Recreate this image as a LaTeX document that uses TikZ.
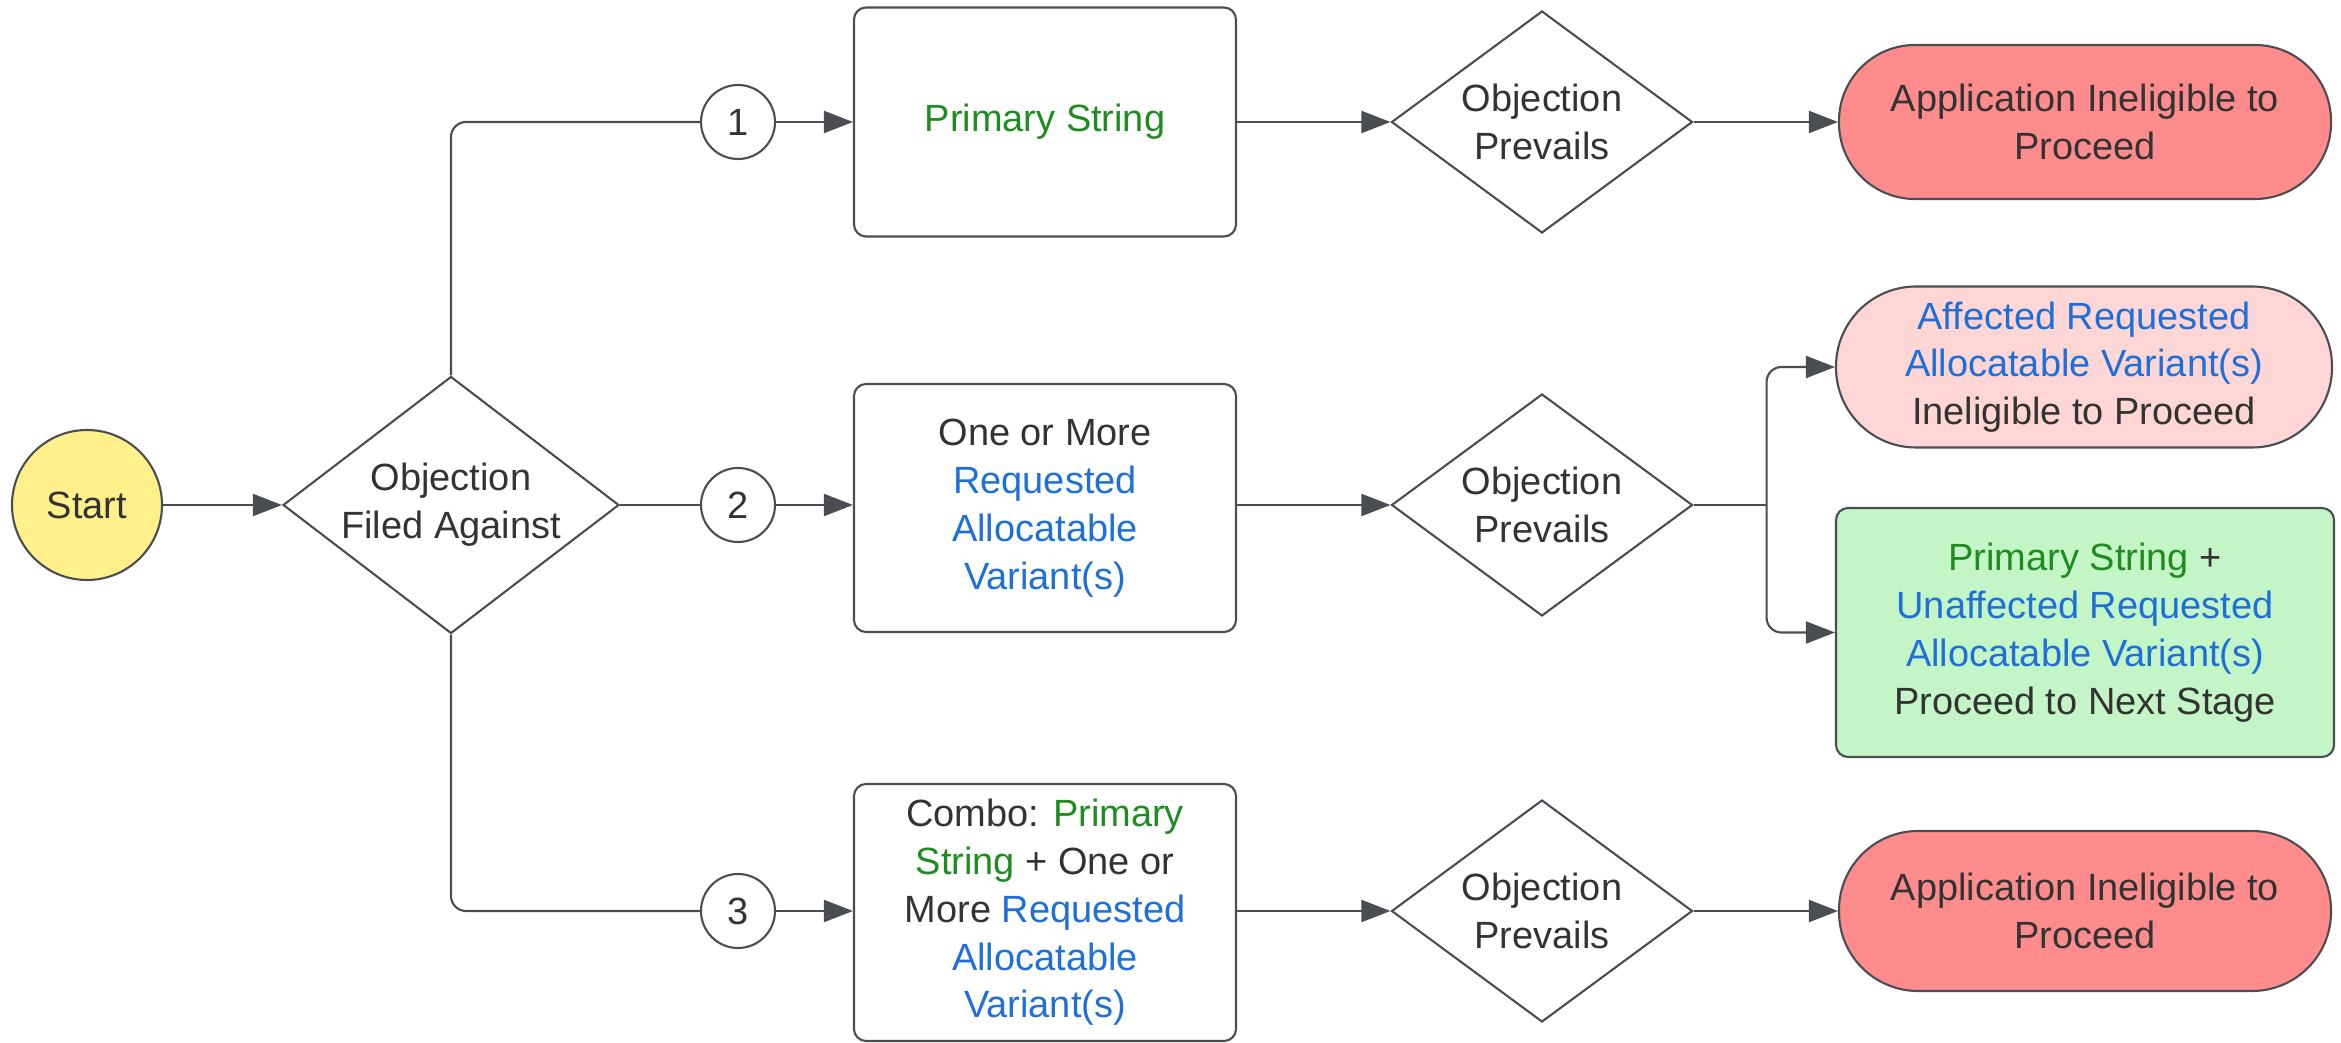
\documentclass[tikz,border=0pt]{standalone}
\usepackage{fontspec}
\setmainfont{Liberation Sans}
\usepackage{xcolor}
\usetikzlibrary{shapes.geometric, positioning, arrows.meta, calc}

\definecolor{linegray}{HTML}{4A4D52}
\definecolor{txtdark}{HTML}{333333}
\definecolor{psgreen}{HTML}{1E8C1E}
\definecolor{ravblue}{HTML}{1F6FD8}
\definecolor{startyellow}{HTML}{FFF08C}
\definecolor{redfill}{HTML}{FF8C8C}
\definecolor{pinkfill}{HTML}{FFD6D6}
\definecolor{greenfill}{HTML}{C4F5C6}

\begin{document}
\begin{tikzpicture}[
    line width=0.6pt,
    every node/.style={font=\fontsize{10.8}{13.6}\selectfont, text=txtdark, align=center},
    flow/.style={draw=linegray, -{Triangle[length=2.9mm, width=2.2mm]}},
    link/.style={draw=linegray, rounded corners=1.5mm},
    startnode/.style={draw=linegray, circle, minimum size=1.5cm, inner sep=0, fill=startyellow},
    decision/.style={draw=linegray, diamond, aspect=1.3, inner sep=0, minimum width=3.01cm, minimum height=2.22cm},
    number/.style={draw=linegray, circle, minimum size=0.74cm, inner sep=0},
    stepbox/.style={draw=linegray, rectangle, rounded corners=1.2mm, minimum width=3.82cm, inner sep=0},
    outcome/.style={draw=linegray, rectangle, rounded corners=0.76cm, minimum width=4.92cm, minimum height=1.54cm, inner sep=0}
]
    \useasboundingbox (0,0) rectangle (23.41,-10.43);

    % ================= START AND FIRST DECISION =================
    \node[startnode] (START) at (0.87, -5.05) {Start};
    \node[decision, minimum width=3.36cm, minimum height=2.57cm] (FILED) at (4.51, -5.05) {Objection\\Filed Against};

    % ================= NUMBERED BRANCHES =================
    \node[number] (N1) at (7.38, -1.22) {1};
    \node[number] (N2) at (7.38, -5.05) {2};
    \node[number] (N3) at (7.38, -9.11) {3};

    % ================= WHAT THE OBJECTION TARGETS =================
    \node[stepbox, minimum height=2.29cm] (BOX1) at (10.45, -1.22) {\textcolor{psgreen}{Primary String}};
    \node[stepbox, minimum height=2.48cm] (BOX2) at (10.45, -5.08)
        {One or More\\\textcolor{ravblue}{Requested}\\\textcolor{ravblue}{Allocatable}\\\textcolor{ravblue}{Variant(s)}};
    \node[stepbox, minimum height=2.57cm] (BOX3) at (10.45, -9.125)
        {Combo: \textcolor{psgreen}{Primary}\\\textcolor{psgreen}{String} + One or\\More \textcolor{ravblue}{Requested}\\\textcolor{ravblue}{Allocatable}\\\textcolor{ravblue}{Variant(s)}};

    % ================= SECOND DECISIONS =================
    \node[decision] (PREV1) at (15.42, -1.22) {Objection\\Prevails};
    \node[decision] (PREV2) at (15.42, -5.05) {Objection\\Prevails};
    \node[decision] (PREV3) at (15.42, -9.11) {Objection\\Prevails};

    % ================= OUTCOMES =================
    \node[outcome, fill=redfill] (END1) at (20.85, -1.22) {Application Ineligible to\\Proceed};
    \node[outcome, fill=pinkfill, minimum width=4.96cm, minimum height=1.61cm, rounded corners=0.8cm] (AFFECTED) at (20.84, -3.67)
        {\textcolor{ravblue}{Affected Requested}\\\textcolor{ravblue}{Allocatable Variant(s)}\\Ineligible to Proceed};
    \node[outcome, fill=greenfill, minimum width=4.98cm, minimum height=2.49cm, rounded corners=1.2mm] (NEXT) at (20.85, -6.325)
        {\textcolor{psgreen}{Primary String} +\\\textcolor{ravblue}{Unaffected Requested}\\\textcolor{ravblue}{Allocatable Variant(s)}\\Proceed to Next Stage};
    \node[outcome, fill=redfill, minimum height=1.6cm, rounded corners=0.79cm] (END3) at (20.85, -9.11) {Application Ineligible to\\Proceed};

    % ================= CONNECTIONS =================
    \draw[flow] (START) -- (FILED);
    \draw[link] (FILED.north) |- (N1);
    \draw[link] (FILED.east) -- (N2);
    \draw[link] (FILED.south) |- (N3);

    \draw[flow] (N1) -- (BOX1);
    \draw[flow] (N2) -- (N2 -| BOX2.west);
    \draw[flow] (N3) -- (N3 -| BOX3.west);

    \draw[flow] (BOX1) -- (PREV1);
    \draw[flow] (BOX2.east |- PREV2) -- (PREV2);
    \draw[flow] (BOX3.east |- PREV3) -- (PREV3);

    \draw[flow] (PREV1) -- (END1);
    \draw[flow] (PREV3) -- (END3);

    % split after the middle decision
    \coordinate (SPLIT) at ($(PREV2.east)+(0.73,0)$);
    \draw[link] (PREV2.east) -- (SPLIT);
    \draw[flow, rounded corners=1.5mm] (SPLIT) |- (AFFECTED.west);
    \draw[flow, rounded corners=1.5mm] (SPLIT) |- (NEXT.west);

\end{tikzpicture}
\end{document}
